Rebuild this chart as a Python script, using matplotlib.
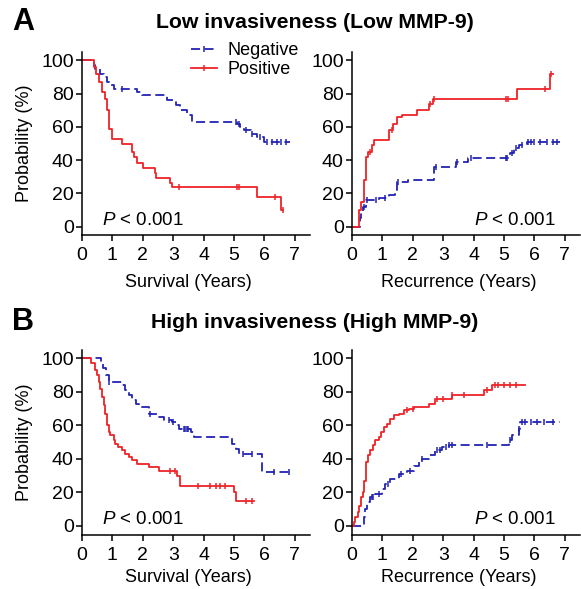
import numpy as np
import matplotlib
matplotlib.use("Agg")
import matplotlib.pyplot as plt
from matplotlib.lines import Line2D

plt.rcParams["font.family"] = ["Liberation Sans", "DejaVu Sans"]
plt.rcParams["mathtext.fontset"] = "custom"
plt.rcParams["mathtext.it"] = "Liberation Sans:italic"
plt.rcParams["mathtext.rm"] = "Liberation Sans"

BLUE = "#2323b4"
RED = "#ee2328"

# A, survival (years -> %)
a_surv_neg_t = [0, 0.38, 0.44, 0.6, 0.71, 0.82, 0.93, 1.04, 1.8, 1.98, 2.8, 3.08, 3.24, 3.46, 3.63,
                5.1, 5.2, 5.33, 5.55, 5.77, 6.0, 6.84]
a_surv_neg_s = [100, 97, 95, 92, 90, 87, 85, 83, 81, 79, 76, 73, 70, 67, 63,
                62, 60, 58, 56, 54, 51, 51]
a_surv_neg_c = [1.3, 5.05, 5.15, 5.4, 5.6, 5.85, 6.1, 6.25, 6.4, 6.55, 6.7]
a_surv_pos_t = [0, 0.4, 0.45, 0.55, 0.65, 0.75, 0.82, 0.9, 0.98, 1.3, 1.65, 1.72, 1.8, 2.0, 2.4,
                2.45, 2.9, 2.95, 5.75, 6.53, 6.6]
a_surv_pos_s = [100, 96, 92, 87, 81, 77, 70, 59, 53, 50, 45, 42, 38, 35, 32,
                29, 26, 24, 18, 10, 10]
a_surv_pos_c = [3.2, 5.1, 5.15, 6.35, 6.6]

# A, recurrence
a_rec_pos_t = [0, 0.23, 0.3, 0.38, 0.45, 0.53, 0.67, 0.74, 1.23, 1.36, 1.47, 1.64, 2.14, 2.54, 2.65,
               5.44, 6.5, 6.6]
a_rec_pos_s = [0, 10, 15, 28, 42, 45, 49, 52, 58, 62, 66, 67, 70, 74, 77, 83, 92, 92]
a_rec_pos_c = [0.6, 1.3, 2.55, 2.7, 5.05, 5.12, 6.35, 6.55]
a_rec_neg_t = [0, 0.25, 0.3, 0.36, 0.45, 0.9, 1.23, 1.4, 1.47, 1.83, 2.7, 3.42, 3.8, 5.16, 5.2,
               5.33, 5.5, 5.77, 6.85]
a_rec_neg_s = [0, 5, 8, 12, 16, 17, 19, 22, 27, 28, 36, 39, 41, 42, 44, 47, 49, 51, 51]
a_rec_neg_c = [0.4, 0.5, 0.8, 1.1, 1.5, 2.75, 3.45, 3.9, 5.05, 5.1, 5.25, 5.4, 5.6, 5.8, 5.9,
               6.0, 6.2, 6.4, 6.6, 6.75]

# B, survival
b_surv_neg_t = [0, 0.62, 0.68, 0.78, 0.88, 1.32, 1.43, 1.54, 1.65, 1.76, 1.87, 2.2, 2.47, 2.7, 2.97,
                3.08, 3.19, 3.57, 3.68, 4.95, 5.05, 5.16, 5.93, 6.85]
b_surv_neg_s = [100, 97, 94, 90, 86, 84, 81, 78, 75, 73, 71, 67, 65, 63, 62,
                60, 58, 56, 53, 49, 46, 43, 32, 32]
b_surv_neg_c = [0.9, 2.25, 2.85, 3.0, 3.35, 3.4, 3.45, 3.5, 5.3, 5.6, 6.3, 6.8]
b_surv_pos_t = [0, 0.3, 0.42, 0.49, 0.55, 0.6, 0.66, 0.71, 0.77, 0.82, 0.88, 0.93, 1.04, 1.1, 1.2,
                1.32, 1.43, 1.54, 1.65, 1.81, 2.2, 2.53, 3.13, 3.24, 5.0, 5.05, 5.66]
b_surv_pos_s = [100, 97, 93, 90, 86, 82, 77, 72, 67, 60, 56, 54, 51, 49, 47,
                45, 43, 41, 39, 37, 35, 33, 30, 24, 20, 15, 15]
b_surv_pos_c = [2.9, 3.05, 3.8, 4.2, 4.4, 4.55, 4.7, 5.4, 5.6]

# B, recurrence
b_rec_pos_t = [0, 0.05, 0.1, 0.19, 0.24, 0.31, 0.35, 0.39, 0.46, 0.53, 0.6, 0.68, 0.75, 0.88, 0.96,
               1.04, 1.15, 1.26, 1.37, 1.54, 1.7, 1.86, 2.03, 2.52, 2.74, 3.29, 4.33, 4.6, 5.7]
b_rec_pos_s = [0, 2, 5, 8, 12, 17, 20, 27, 38, 42, 45, 48, 51, 53, 56,
               59, 61, 64, 66, 67, 69, 70, 71, 73, 76, 78, 81, 84, 84]
b_rec_pos_c = [1.8, 2.0, 2.8, 3.0, 3.3, 3.7, 4.45, 4.7, 4.8, 5.0, 5.2, 5.4]
b_rec_neg_t = [0, 0.38, 0.44, 0.49, 0.6, 0.77, 0.99, 1.1, 1.26, 1.54, 1.81, 2.03, 2.19, 2.3, 2.52,
               2.74, 2.96, 3.18, 5.15, 5.26, 5.48, 5.54, 6.85]
b_rec_neg_s = [0, 5, 10, 14, 17, 19, 22, 25, 28, 31, 33, 36, 38, 40, 42,
               45, 47, 48, 51, 54, 58, 62, 62]
b_rec_neg_c = [0.65, 0.7, 0.9, 1.2, 1.6, 1.9, 2.3, 2.8, 2.9, 3.1, 3.2, 3.3, 4.45, 5.2, 5.5,
               5.6, 5.7, 5.9, 6.1, 6.3, 6.6]

W, H = 581, 589
fig = plt.figure(figsize=(W / 100, H / 100), dpi=100)


def add_ax(x0, x1, y0, y1):
    return fig.add_axes([x0 / W, 1 - y1 / H, (x1 - x0) / W, (y1 - y0) / H])


def km(ax, t, s, c, color, dashed):
    t = np.asarray(t)
    s = np.asarray(s)
    ls = (0, (5, 2.5)) if dashed else "-"
    ax.step(t, s, where="post", color=color, lw=1.3, ls=ls)
    idx = np.searchsorted(t, c, side="right") - 1
    ax.plot(c, s[idx], ls="none", marker="|", ms=5, mew=1.1, color=color)


def style(ax, xlabel, ylabel, bottom, xpad, label_y):
    ax.set_xlim(0, 7.5)
    ax.set_ylim(bottom, 105)
    ax.set_xticks(range(0, 8))
    ax.set_yticks(range(0, 101, 20))
    for side in ["top", "right"]:
        ax.spines[side].set_visible(False)
    for side in ["left", "bottom"]:
        ax.spines[side].set_linewidth(1.1)
    ax.tick_params(direction="out", length=4, width=1.1, labelsize=14)
    ax.tick_params(axis="x", pad=xpad)
    ax.tick_params(axis="y", pad=2)
    ax.set_xlabel(xlabel, fontsize=13)
    ax.xaxis.set_label_coords(3.5 / 7.5, label_y)
    if ylabel:
        ax.set_ylabel(ylabel, fontsize=13, labelpad=6)


panels = [
    ((82, 310, 52, 235), -5, "Survival (Years)", "Probability (%)", 5, -0.215,
     (a_surv_neg_t, a_surv_neg_s, a_surv_neg_c), (a_surv_pos_t, a_surv_pos_s, a_surv_pos_c), "left"),
    ((352, 580, 52, 235), -5, "Recurrence (Years)", None, 5, -0.215,
     (a_rec_neg_t, a_rec_neg_s, a_rec_neg_c), (a_rec_pos_t, a_rec_pos_s, a_rec_pos_c), "right"),
    ((82, 310, 350, 535), -5.5, "Survival (Years)", "Probability (%)", 5, -0.183,
     (b_surv_neg_t, b_surv_neg_s, b_surv_neg_c), (b_surv_pos_t, b_surv_pos_s, b_surv_pos_c), "left"),
    ((352, 580, 350, 535), -5.5, "Recurrence (Years)", None, 5, -0.183,
     (b_rec_neg_t, b_rec_neg_s, b_rec_neg_c), (b_rec_pos_t, b_rec_pos_s, b_rec_pos_c), "right"),
]

axes = []
for box, bottom, xl, yl, xpad, label_y, neg, pos, pside in panels:
    ax = add_ax(*box)
    km(ax, *neg, BLUE, True)
    km(ax, *pos, RED, False)
    style(ax, xl, yl, bottom, xpad, label_y)
    if pside == "left":
        ax.text(0.66, 4, "$P$ < 0.001", fontsize=13.5, ha="left", va="center")
    else:
        ax.text(6.7, 4, "$P$ < 0.001", fontsize=13.5, ha="right", va="center")
    axes.append(ax)

handles = [
    Line2D([], [], color=BLUE, lw=1.3, ls=(0, (5, 2.5)), marker="|", ms=5, mew=1.1),
    Line2D([], [], color=RED, lw=1.3, marker="|", ms=5, mew=1.1),
]
axes[0].legend(handles, ["Negative", "Positive"], loc="upper left",
               bbox_to_anchor=(191 / W, 1 - 42 / H), bbox_transform=fig.transFigure,
               frameon=False, fontsize=13, handlelength=1.45, handletextpad=0.55,
               labelspacing=0.12, borderpad=0, borderaxespad=0, numpoints=1)

fig.text(23 / W, 1 - 22 / H, "A", fontsize=22, fontweight="bold", ha="center", va="center")
fig.text(23 / W, 1 - 322 / H, "B", fontsize=22, fontweight="bold", ha="center", va="center")
fig.text(315 / W, 1 - 22 / H, "Low invasiveness (Low MMP-9)", fontsize=15.3, fontweight="bold",
         ha="center", va="center")
fig.text(315 / W, 1 - 323 / H, "High invasiveness (High MMP-9)", fontsize=15.3, fontweight="bold",
         ha="center", va="center")

fig.savefig("out.png", dpi=100)
